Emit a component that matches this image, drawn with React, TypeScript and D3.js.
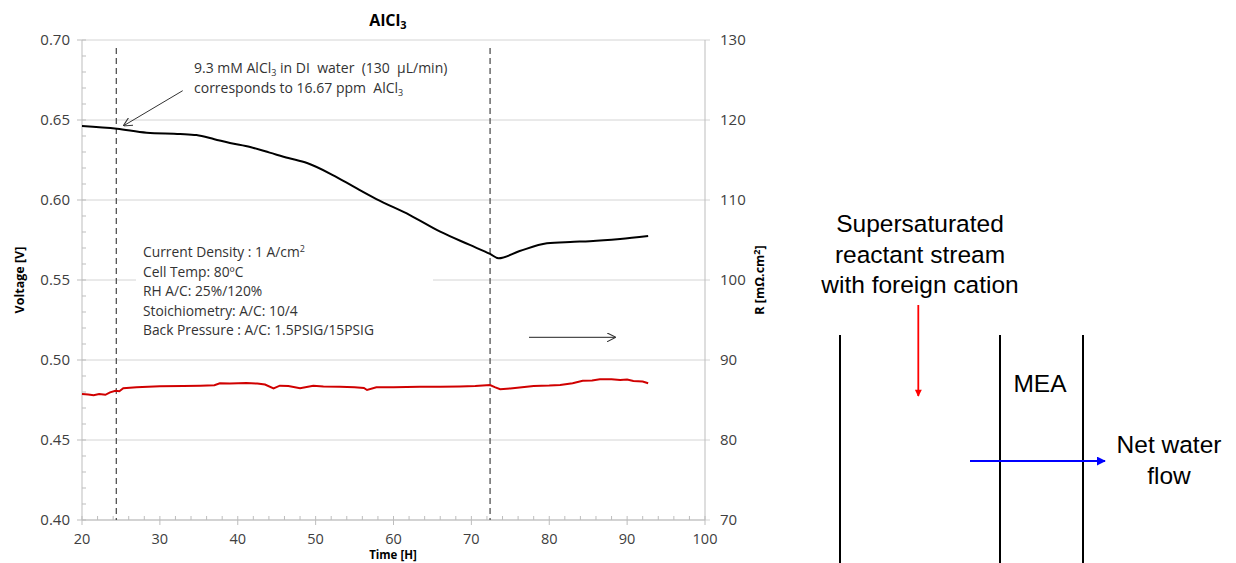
import React from "react";
import * as d3 from "d3";

// ---- data ----
const xTicks = [20, 30, 40, 50, 60, 70, 80, 90, 100];
const vTicks = [0.4, 0.45, 0.5, 0.55, 0.6, 0.65, 0.7];
const rTicks = [70, 80, 90, 100, 110, 120, 130];
const eventTimes = [24.4, 72.4];

// Voltage [V] vs time [H]
const voltageSeries: [number, number][] = [
  [20, 0.6463], [24.5, 0.6446], [28.3, 0.6421], [32.6, 0.6413], [34.7, 0.6406],
  [37.0, 0.6380], [39.0, 0.6356], [41.6, 0.6331], [44.1, 0.6296], [46.5, 0.6262],
  [48.9, 0.6231], [52.2, 0.6156], [55.0, 0.6080], [57.8, 0.6006], [62.1, 0.5906],
  [66.0, 0.5802], [69.8, 0.5719], [72.4, 0.5663], [73.5, 0.5636], [76.2, 0.5681],
  [79.7, 0.5729], [82.7, 0.5738], [85.2, 0.5742], [89.1, 0.5756], [92.7, 0.5775],
];

// R [mOhm.cm2] vs time [H]
const resistanceSeries: [number, number][] = [
  [20, 85.75], [20.8, 85.7], [21.5, 85.6], [22.2, 85.75], [23.0, 85.65], [23.6, 85.96],
  [24.3, 86.16], [24.8, 86.1], [25.3, 86.46], [27, 86.6], [30, 86.71], [33, 86.75],
  [35.2, 86.79], [37.0, 86.85], [37.7, 87.09], [39, 87.05], [41.1, 87.13], [42.5, 87.05],
  [43.5, 86.94], [44.6, 86.46], [45.4, 86.79], [46.5, 86.75], [48.0, 86.46], [49.7, 86.79],
  [51, 86.7], [53.1, 86.66], [55, 86.6], [56.2, 86.5], [56.6, 86.25], [57.8, 86.59],
  [60, 86.6], [63.4, 86.66], [66, 86.65], [68.5, 86.69], [70.5, 86.75], [72.4, 86.875],
  [73.0, 86.6], [73.7, 86.34], [75, 86.45], [78.0, 86.75], [80, 86.8], [81.4, 86.875],
  [83, 87.1], [84.3, 87.41], [85.5, 87.45], [86.5, 87.59], [88, 87.6], [89.1, 87.5],
  [90, 87.55], [90.8, 87.375], [92, 87.3], [92.7, 87.09],
];

const conditionLines = [
  "Cell Temp: 80ºC",
  "RH A/C: 25%/120%",
  "Stoichiometry: A/C: 10/4",
  "Back Pressure : A/C: 1.5PSIG/15PSIG",
];

// ---- layout ----
const W = 1236;
const H = 563;
const left = 82;
const right = 705;
const top = 40;
const bottom = 520;

const chartFont = "'Open Sans', 'DejaVu Sans', sans-serif";
const diagFont = "'Liberation Sans', Arial, sans-serif";
const tickColor = "#404040";
const gridColor = "#d4d4d4";
const axisColor = "#bdbdbd";

export default function App() {
  const x = d3.scaleLinear().domain([20, 100]).range([left, right]);
  const yV = d3.scaleLinear().domain([0.4, 0.7]).range([bottom, top]);
  const yR = d3.scaleLinear().domain([70, 130]).range([bottom, top]);

  const xMinor = d3.range(20, 100.001, 2);
  const vMinor = d3.range(0, 31).map((i) => 0.4 + i * 0.01);

  const vLine = d3
    .line<[number, number]>()
    .x((d) => x(d[0]))
    .y((d) => yV(d[1]))
    .curve(d3.curveMonotoneX);
  const rLine = d3
    .line<[number, number]>()
    .x((d) => x(d[0]))
    .y((d) => yR(d[1]));

  return (
    <svg
      width={W}
      height={H}
      viewBox={`0 0 ${W} ${H}`}
      style={{ position: "absolute", left: 0, top: 0, background: "#fff" }}
    >
      <defs>
        <marker id="openArrow" viewBox="0 0 10 10" refX="9" refY="5" markerWidth="9" markerHeight="9" orient="auto" markerUnits="userSpaceOnUse">
          <path d="M0,0 L10,5 L0,10" fill="none" stroke="#333" strokeWidth="1.2" />
        </marker>
        <marker id="redHead" viewBox="0 0 10 10" refX="5" refY="9" markerWidth="7" markerHeight="8" orient="0" markerUnits="userSpaceOnUse">
          <path d="M0,0 L10,0 L5,10 Z" fill="#ff0000" />
        </marker>
        <marker id="blueHead" viewBox="0 0 10 10" refX="9" refY="5" markerWidth="9" markerHeight="9" orient="auto" markerUnits="userSpaceOnUse">
          <path d="M0,0 L10,5 L0,10 Z" fill="#0000ff" />
        </marker>
      </defs>

      {/* gridlines */}
      {vTicks.map((v) => (
        <line key={"g" + v} x1={left} x2={right + 5} y1={yV(v)} y2={yV(v)} stroke={gridColor} strokeWidth={1} />
      ))}

      {/* axes */}
      <line x1={left} x2={left} y1={top} y2={bottom} stroke={axisColor} strokeWidth={1} />
      <line x1={right} x2={right} y1={top} y2={bottom} stroke={axisColor} strokeWidth={1} />
      <line x1={left} x2={right} y1={bottom} y2={bottom} stroke={axisColor} strokeWidth={1} />

      {/* left ticks */}
      {vMinor.map((v, i) => (
        <line key={"vm" + i} x1={left} x2={left + 4} y1={yV(v)} y2={yV(v)} stroke={axisColor} />
      ))}
      {vTicks.map((v) => (
        <g key={"vt" + v}>
          <line x1={left - 5} x2={left} y1={yV(v)} y2={yV(v)} stroke={axisColor} />
          <text x={left - 12} y={yV(v)} dy="0.35em" textAnchor="end" fontFamily={chartFont} fontSize={15} fill={tickColor}>
            {v.toFixed(2)}
          </text>
        </g>
      ))}
      {/* right ticks */}
      {rTicks.map((r) => (
        <g key={"rt" + r}>
          <text x={right + 15} y={yR(r)} dy="0.35em" textAnchor="start" fontFamily={chartFont} fontSize={15} fill={tickColor}>
            {r}
          </text>
        </g>
      ))}
      {/* bottom ticks */}
      {xMinor.map((t, i) => (
        <line key={"xm" + i} x1={x(t)} x2={x(t)} y1={bottom - 4} y2={bottom} stroke={axisColor} />
      ))}
      {xTicks.map((t) => (
        <g key={"xt" + t}>
          <line x1={x(t)} x2={x(t)} y1={bottom} y2={bottom + 5} stroke={axisColor} />
          <text x={x(t)} y={bottom + 18.5} dy="0.35em" textAnchor="middle" fontFamily={chartFont} fontSize={14.5} fill={tickColor}>
            {t}
          </text>
        </g>
      ))}

      {/* condition box (white background masks grid) */}
      <rect x={136} y={238} width={297} height={102} fill="#fff" />
      <text x={143} y={257} fontFamily={chartFont} fontSize={13.8} fill="#333">
        Current Density : 1 A/cm
        <tspan fontSize={9} dy={-5}>2</tspan>
      </text>
      {conditionLines.map((s, i) => (
        <text key={s} x={143} y={276.5 + i * 19.5} fontFamily={chartFont} fontSize={13.8} fill="#333">
          {s}
        </text>
      ))}

      {/* dashed event lines */}
      {eventTimes.map((t) => (
        <line key={"ev" + t} x1={x(t)} x2={x(t)} y1={48} y2={bottom} stroke="#333" strokeWidth={1.1} strokeDasharray="6,4" />
      ))}

      {/* series */}
      <path d={rLine(resistanceSeries) || ""} fill="none" stroke="#d00000" strokeWidth={2} />
      <path d={vLine(voltageSeries) || ""} fill="none" stroke="#000" strokeWidth={2} />

      {/* annotation */}
      <text x={194} y={73} fontFamily={chartFont} fontSize={14} fill="#333" xmlSpace="preserve">
        9.3 mM AlCl<tspan fontSize={9} dy={3}>3</tspan><tspan dy={-3}> in DI  water  (130  µL/min)</tspan>
      </text>
      <text x={194} y={93} fontFamily={chartFont} fontSize={14} fill="#333" xmlSpace="preserve">
        corresponds to 16.67 ppm  AlCl<tspan fontSize={9} dy={3}>3</tspan>
      </text>
      <line x1={182.7} y1={90.7} x2={124} y2={125.5} stroke="#333" strokeWidth={1} markerEnd="url(#openArrow)" />
      <line x1={529} y1={337.3} x2={615} y2={337.3} stroke="#222" strokeWidth={1} markerEnd="url(#openArrow)" />

      {/* title */}
      <text x={388} y={26} textAnchor="middle" fontFamily={chartFont} fontWeight="bold" fontSize={16} fill="#000">
        AlCl<tspan fontSize={11} dy={3}>3</tspan>
      </text>

      {/* axis titles */}
      <text transform={`translate(24,${(top + bottom) / 2}) rotate(-90)`} textAnchor="middle" fontFamily={chartFont} fontWeight="bold" fontSize={12.5} fill="#000">
        Voltage [V]
      </text>
      <text transform={`translate(764,${(top + bottom) / 2}) rotate(-90)`} textAnchor="middle" fontFamily={chartFont} fontWeight="bold" fontSize={12.5} fill="#000">
        R [mΩ.cm<tspan fontSize={9} dy={-4}>2</tspan><tspan dy={4}>]</tspan>
      </text>
      <text x={393} y={559} textAnchor="middle" fontFamily={chartFont} fontWeight="bold" fontSize={11.5} fill="#000">
        Time [H]
      </text>

      {/* schematic */}
      <g fontFamily={diagFont} fontSize={24.5} fill="#000" textAnchor="middle">
        <text x={920} y={232}>Supersaturated</text>
        <text x={920} y={263}>reactant stream</text>
        <text x={920} y={293}>with foreign cation</text>
        <text x={1040} y={392}>MEA</text>
        <text x={1169} y={453}>Net water</text>
        <text x={1169} y={484}>flow</text>
      </g>
      <line x1={840} x2={840} y1={335} y2={H} stroke="#000" strokeWidth={2} />
      <line x1={1000} x2={1000} y1={335} y2={H} stroke="#000" strokeWidth={2} />
      <line x1={1083} x2={1083} y1={335} y2={H} stroke="#000" strokeWidth={2} />
      <line x1={918.3} x2={918.3} y1={305} y2={396} stroke="#ff0000" strokeWidth={1.8} markerEnd="url(#redHead)" />
      <line x1={970} x2={1105} y1={461} y2={461} stroke="#0000ff" strokeWidth={2} markerEnd="url(#blueHead)" />
    </svg>
  );
}
